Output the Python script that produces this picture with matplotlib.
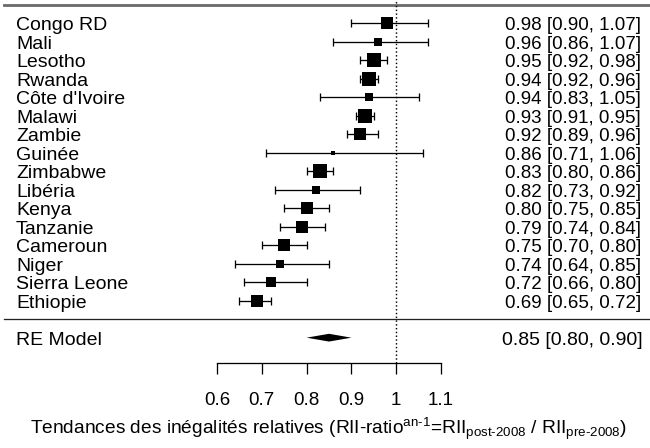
"""Forest plot of relative inequality trends (RII ratio), metafor-like layout."""
import matplotlib

matplotlib.use("Agg")
import matplotlib.pyplot as plt

plt.rcParams["font.family"] = ["Liberation Sans", "DejaVu Sans"]
plt.rcParams["mathtext.fontset"] = "custom"
plt.rcParams["mathtext.rm"] = "Liberation Sans"
plt.rcParams["mathtext.it"] = "Liberation Sans:italic"

countries = [
    "Congo RD", "Mali", "Lesotho", "Rwanda", "Côte d'Ivoire", "Malawi",
    "Zambie", "Guinée", "Zimbabwe", "Libéria", "Kenya", "Tanzanie",
    "Cameroun", "Niger", "Sierra Leone", "Ethiopie",
]
estimates = [0.98, 0.96, 0.95, 0.94, 0.94, 0.93, 0.92, 0.86,
             0.83, 0.82, 0.80, 0.79, 0.75, 0.74, 0.72, 0.69]
ci_lower = [0.90, 0.86, 0.92, 0.92, 0.83, 0.91, 0.89, 0.71,
            0.80, 0.73, 0.75, 0.74, 0.70, 0.64, 0.66, 0.65]
ci_upper = [1.07, 1.07, 0.98, 0.96, 1.05, 0.95, 0.96, 1.06,
            0.86, 0.92, 0.85, 0.84, 0.80, 0.85, 0.80, 0.72]
# relative study weight (box width)
weights = [11.7, 8.3, 13.3, 13.7, 8.3, 13.7, 12.0, 4.7,
           13.3, 8.7, 12.3, 11.3, 11.3, 7.3, 10.0, 12.7]

re_label = "RE Model"
re_estimate, re_lower, re_upper = 0.85, 0.80, 0.90

ticks = [0.6, 0.7, 0.8, 0.9, 1.0, 1.1]
tick_labels = ["0.6", "0.7", "0.8", "0.9", "1", "1.1"]
xlabel = (r"Tendances des inégalités relatives (RII-ratio$^{\mathrm{an\text{-}1}}$"
          r"=RII$_{\mathrm{post\text{-}2008}}$ / RII$_{\mathrm{pre\text{-}2008}}$)")

# layout (pixels of the 650x448 canvas)
W, H, DPI = 650, 448, 100
PX_PER_UNIT = 448.0          # x pixels per 1.0 of ratio
X_AT_06 = 217.0              # pixel of the 0.6 tick
ROW1_PX, ROW_PX = 300.7, 18.49
PT = 72.0 / DPI


def xval(px):
    return 0.6 + (px - X_AT_06) / PX_PER_UNIT


def yrow(px):
    return 1 + (ROW1_PX - px) / ROW_PX


k = len(countries)
rows = list(range(k, 0, -1))
axis_row = yrow(363)

fig = plt.figure(figsize=(W / DPI, H / DPI), dpi=DPI)
ax = fig.add_axes([0, 0, 1, 1])
ax.set_xlim(xval(0), xval(W))
ax.set_ylim(yrow(H), yrow(0))

# horizontal rules
ax.axhline(k + 1, xmin=4 / W, color="#6a6a6a", lw=2.0 * PT * 1.4)
ax.axhline(0, xmin=4 / W, color="#222222", lw=1.3 * PT)

# reference line at 1
ax.plot([1, 1], [axis_row, yrow(0)], color="black", ls=":", lw=1.1 * PT * 1.3)

# confidence intervals + boxes
lo_err = [e - l for e, l in zip(estimates, ci_lower)]
hi_err = [u - e for e, u in zip(estimates, ci_upper)]
ax.errorbar(estimates, rows, xerr=[lo_err, hi_err], fmt="none", ecolor="black",
            elinewidth=1.3 * PT, capsize=3.8 * PT, capthick=1.3 * PT, zorder=2)
for est, r, w in zip(estimates, rows, weights):
    ax.plot(est, r, marker="s", color="black", markersize=w * PT,
            markeredgewidth=0, zorder=3)

# summary diamond
h = 0.21
ax.fill([re_lower, re_estimate, re_upper, re_estimate],
        [-1, -1 + h, -1, -1 - h], color="black", lw=0, zorder=3)

# text columns
base = 0.37
for name, r in zip(countries, rows):
    ax.text(xval(16), r - base, name, ha="left", va="baseline", fontsize=14)
ax.text(xval(16), -1 - base, re_label, ha="left", va="baseline", fontsize=14)

for est, lo, hi, r in zip(estimates, ci_lower, ci_upper, rows):
    ax.text(xval(641), r - base, f"{est:.2f} [{lo:.2f}, {hi:.2f}]",
            ha="right", va="baseline", fontsize=13.5)
ax.text(xval(643), -1 - base, f"{re_estimate:.2f} [{re_lower:.2f}, {re_upper:.2f}]",
        ha="right", va="baseline", fontsize=14)

# x axis
for side in ("left", "right", "top"):
    ax.spines[side].set_visible(False)
ax.spines["bottom"].set_position(("data", axis_row))
ax.spines["bottom"].set_bounds(ticks[0], ticks[-1])
ax.spines["bottom"].set_linewidth(1.3 * PT)
ax.set_xticks(ticks)
ax.set_xticklabels(tick_labels)
ax.set_yticks([])
ax.tick_params(axis="x", direction="out", length=11 * PT, width=1.3 * PT,
               labelsize=13.5, pad=13.0)

ax.text(0.85, yrow(434), xlabel, ha="center", va="baseline", fontsize=13.8)

fig.savefig("out.png", dpi=DPI)
